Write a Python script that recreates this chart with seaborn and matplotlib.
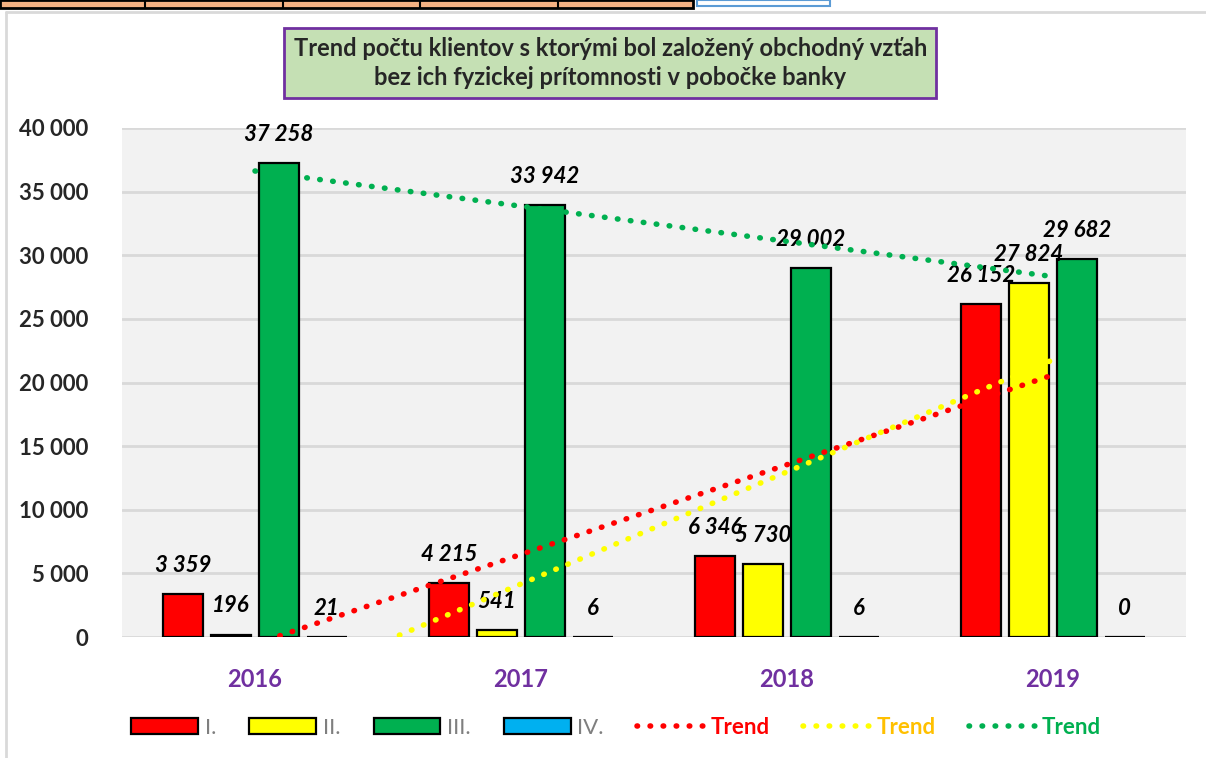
import numpy as np
import pandas as pd
import matplotlib
matplotlib.use("Agg")
import matplotlib.pyplot as plt
import seaborn as sns
from matplotlib.patches import Rectangle, Patch
from matplotlib.lines import Line2D
from matplotlib.ticker import FuncFormatter

# data
years = ["2016", "2017", "2018", "2019"]
series_names = ["I.", "II.", "III.", "IV."]
values_I = [3359, 4215, 6346, 26152]
values_II = [196, 541, 5730, 27824]
values_III = [37258, 33942, 29002, 29682]
values_IV = [21, 6, 6, 0]

colors = ["#ff0000", "#ffff00", "#00b050", "#00b0f0"]
trend_colors = ["#ff0000", "#ffff00", "#00b050"]
trend_text_colors = ["#ff0000", "#ffc000", "#00b050"]
purple = "#7030a0"

df = pd.DataFrame({
    "year": years * 4,
    "series": [s for s in series_names for _ in years],
    "value": values_I + values_II + values_III + values_IV,
})

sns.set_theme(style="white")
plt.rcParams["font.family"] = ["Lato", "DejaVu Sans"]

fig = plt.figure(figsize=(12.06, 7.58), dpi=100)
ax = fig.add_axes([122 / 1206, 1 - 637 / 758, (1186 - 122) / 1206, (637 - 128) / 758])
ax.set_facecolor("#f2f2f2")

sns.barplot(data=df, x="year", y="value", hue="series", palette=colors, saturation=1,
            width=0.72, gap=0.17, edgecolor="black", linewidth=1.6, ax=ax, legend=False)

ax.set_xlim(-0.5, 3.5)
ax.set_ylim(0, 40000)
ax.set_yticks(np.arange(0, 40001, 5000))
ax.yaxis.set_major_formatter(FuncFormatter(lambda v, p: f"{int(v):,}".replace(",", " ")))
ax.grid(axis="y", color="#d9d9d9", linewidth=2)
ax.set_axisbelow(True)
for s in ax.spines.values():
    s.set_visible(False)
ax.tick_params(axis="y", length=0, pad=24, labelsize=16)
ax.tick_params(axis="x", length=0, pad=22, labelsize=17, labelcolor=purple)
for t in ax.get_yticklabels():
    t.set_fontweight("bold")
for t in ax.get_xticklabels():
    t.set_fontweight("bold")
ax.set_xlabel("")
ax.set_ylabel("")

# data labels
for cont in ax.containers:
    labels = [f"{int(v):,}".replace(",", " ") for v in cont.datavalues]
    ax.bar_label(cont, labels=labels, padding=13, fontsize=16, fontweight="bold",
                 fontstyle="italic", color="black")

# linear trends
dots = (0, (0.1, 2.25))
xs = np.arange(4)
for vals, c in zip([values_I, values_II, values_III], trend_colors):
    k, b = np.polyfit(xs, vals, 1)
    xx = np.linspace(0, 3, 200)
    ax.plot(xx, k * xx + b, color=c, linestyle=dots, linewidth=4,
            dash_capstyle="round", zorder=5)

# legend
handles = [Patch(facecolor=c, edgecolor="black", linewidth=1.6) for c in colors]
handles += [Line2D([0], [0], color=c, linestyle=dots, linewidth=4,
                   dash_capstyle="round") for c in trend_colors]
labels = series_names + ["Trend"] * 3
leg = fig.legend(handles, labels, loc="center", bbox_to_anchor=(0.511, 1 - 727 / 758),
                 ncol=7, frameon=False, fontsize=16, handlelength=3.0, handleheight=0.7,
                 handletextpad=0.3, columnspacing=1.5)
for i, t in enumerate(leg.get_texts()):
    if i < 4:
        t.set_color("#7f7f7f")
    else:
        t.set_color(trend_text_colors[i - 4])
        t.set_fontweight("bold")

# title box
fig.text(0.506, 1 - 63 / 758,
         "Trend počtu klientov s ktorými bol založený obchodný vzťah\nbez ich fyzickej prítomnosti v pobočke banky",
         ha="center", va="center", fontsize=17, fontweight="bold", linespacing=1.3,
         bbox=dict(boxstyle="square,pad=0.4", facecolor="#c5e0b4", edgecolor=purple, linewidth=2))

# chart frame and spreadsheet remnants at the top
fig.add_artist(Line2D([6 / 1206, 6 / 1206], [0, 1 - 12 / 758], color="#d9d9d9", linewidth=2))
fig.add_artist(Line2D([6 / 1206, 1], [1 - 12 / 758, 1 - 12 / 758], color="#d9d9d9", linewidth=2))
fig.add_artist(Rectangle((0, 1 - 8 / 758), 693 / 1206, 8 / 758, facecolor="#f4b183",
                         edgecolor="black", linewidth=2))
for xc in [145, 283, 420, 558]:
    fig.add_artist(Line2D([xc / 1206, xc / 1206], [1 - 8 / 758, 1], color="black", linewidth=1.5))
fig.add_artist(Rectangle((697 / 1206, 1 - 6 / 758), 133 / 1206, 6 / 758, facecolor="white",
                         edgecolor="#5b9bd5", linewidth=1.5))

fig.savefig("out.png", dpi=100)
